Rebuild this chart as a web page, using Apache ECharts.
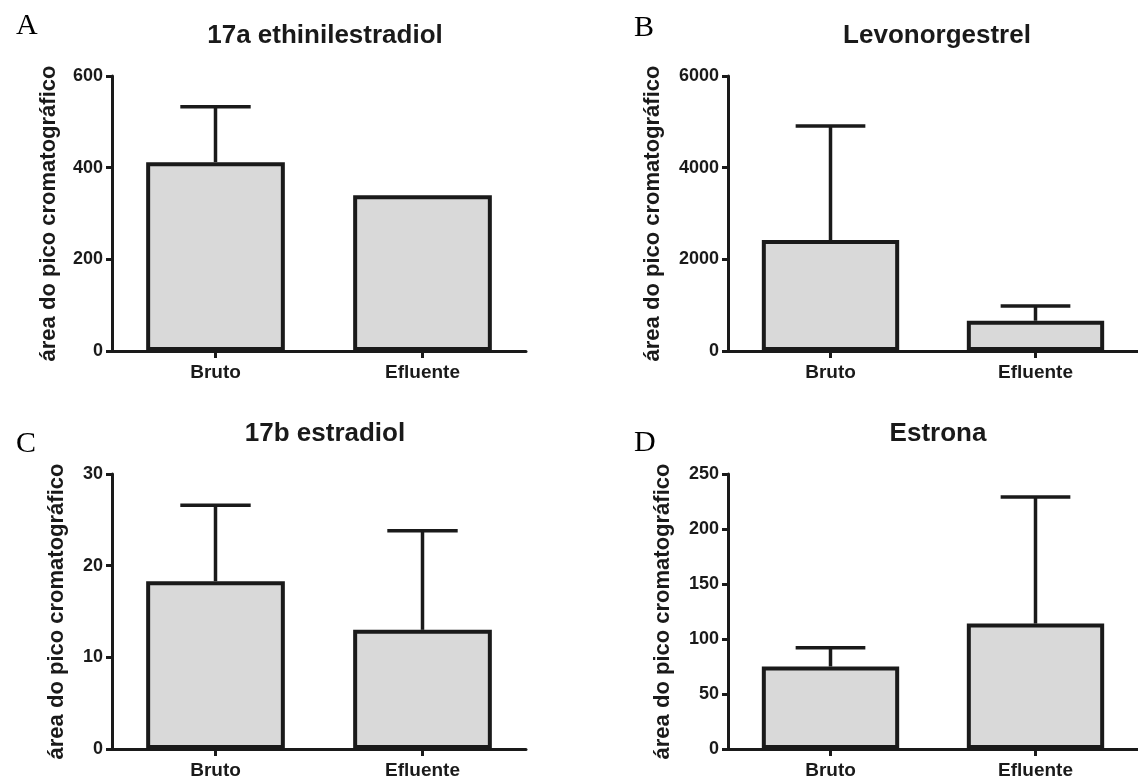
<!DOCTYPE html>
<html>
<head>
<meta charset="utf-8">
<script src="https://cdn.jsdelivr.net/npm/echarts@6/dist/echarts.min.js"></script>
<style>
html,body{margin:0;padding:0;background:#fff;}
#chart{width:1138px;height:784px;}
</style>
</head>
<body>
<div id="chart"></div>
<script>
// ---- data ----
var categories = ['Bruto', 'Efluente'];
var panelLetters = ['A', 'B', 'C', 'D'];
var panelTitles = ['17a ethinilestradiol', 'Levonorgestrel', '17b estradiol', 'Estrona'];
var yAxisName = 'área do pico cromatográfico';
// means
var meansA = [412, 340];
var meansB = [2420, 660];
var meansC = [18.3, 13.0];
var meansD = [75, 114];
// mean + SD (error bar tops); null = no bar drawn
var upperA = [533, null];
var upperB = [4910, 980];
var upperC = [26.6, 23.8];
var upperD = [92, 229];
// y axis ranges
var yMax = [600, 6000, 30, 250];
var yInterval = [200, 2000, 10, 50];

// ---- layout ----
var grids = [
  {left: 112, top: 76, width: 414, height: 275},
  {left: 728, top: 76, width: 412, height: 275},
  {left: 112, top: 474, width: 414, height: 275},
  {left: 728, top: 474, width: 412, height: 275}
];
var nameGaps = [52, 64, 44, 54];
var titlePos = [[320, 18], [932, 18], [320, 416], [933, 416]];
var letterPos = [[11, 6], [629, 8], [11, 424], [629, 423]];

var means = [meansA, meansB, meansC, meansD];
var uppers = [upperA, upperB, upperC, upperD];
var ink = '#1a1a1a';
var fontSans = 'Liberation Sans, Arial, sans-serif';

var option = {
  backgroundColor: '#ffffff',
  animation: false,
  title: [],
  grid: [],
  xAxis: [],
  yAxis: [],
  series: []
};

for (var i = 0; i < 4; i++) {
  option.title.push({
    text: panelTitles[i], left: titlePos[i][0], top: titlePos[i][1], textAlign: 'center',
    textStyle: {fontFamily: fontSans, fontWeight: 'bold', fontSize: 26, color: ink}
  });
  option.title.push({
    text: panelLetters[i], left: letterPos[i][0], top: letterPos[i][1],
    textStyle: {fontFamily: 'Liberation Serif, Times New Roman, serif', fontWeight: 'normal', fontSize: 30, color: '#000'}
  });
  option.grid.push(Object.assign({containLabel: false}, grids[i]));
  option.xAxis.push({
    type: 'category', gridIndex: i, data: categories,
    axisLine: {show: true, lineStyle: {color: ink, width: 3}},
    axisTick: {show: true, alignWithLabel: true, length: 7, lineStyle: {color: ink, width: 3}},
    axisLabel: {interval: 0, margin: 12, fontFamily: fontSans, fontWeight: 'bold', fontSize: 19, color: ink},
    splitLine: {show: false}
  });
  option.yAxis.push({
    type: 'value', gridIndex: i, min: 0, max: yMax[i], interval: yInterval[i],
    name: yAxisName, nameLocation: 'middle', nameGap: nameGaps[i], nameRotate: 90,
    nameTextStyle: {fontFamily: fontSans, fontWeight: 'bold', fontSize: 22, color: ink},
    axisLine: {show: true, lineStyle: {color: ink, width: 3}},
    axisTick: {show: true, length: 6, lineStyle: {color: ink, width: 3}},
    axisLabel: {margin: 9, fontFamily: fontSans, fontWeight: 'bold', fontSize: 18, color: ink,
      formatter: function (v) { return String(v); }},
    splitLine: {show: false}
  });
  var errData = [];
  for (var k = 0; k < categories.length; k++) {
    if (uppers[i][k] != null) errData.push([k, means[i][k], uppers[i][k]]);
  }
  option.series.push({
    type: 'custom', xAxisIndex: i, yAxisIndex: i, z: 1,
    data: errData,
    renderItem: function (params, api) {
      var x = api.value(0);
      var base = api.coord([x, api.value(1)]);
      var top = api.coord([x, api.value(2)]);
      var band = api.size([1, 0])[0];
      var half = band * 0.17;
      var st = {stroke: '#1a1a1a', lineWidth: 3.5};
      return {
        type: 'group',
        children: [
          {type: 'line', shape: {x1: base[0], y1: base[1], x2: top[0], y2: top[1]}, style: st},
          {type: 'line', shape: {x1: top[0] - half, y1: top[1], x2: top[0] + half, y2: top[1]}, style: st}
        ]
      };
    }
  });
  option.series.push({
    type: 'bar', xAxisIndex: i, yAxisIndex: i, z: 2,
    data: means[i], barWidth: '67%',
    itemStyle: {color: '#d9d9d9', borderColor: ink, borderWidth: 4}
  });
}

var chart = echarts.init(document.getElementById('chart'), null, {renderer: 'canvas'});
chart.setOption(option);
</script>
</body>
</html>
